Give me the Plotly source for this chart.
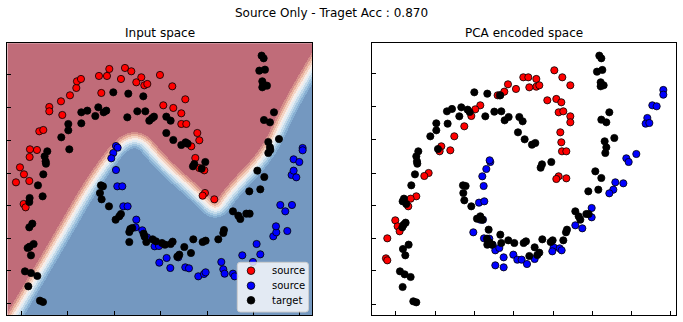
import numpy as np
import plotly.graph_objects as go

# ---------------- Input space (left panel) ----------------
in_red_x = [26, 38, 50, 66, 49, 55, 68, 89, 67, 96, 108, 126, 126, 161, 165, 188, 207, 209, 221, 275,
            282, 299, 306, 341, 353, 372, 387, 402, 411, 420, 458, 495, 534, 468, 498, 522, 522, 537,
            570, 576, 552, 564, 576, 591, 593, 586, 621]
in_red_y = [398, 443, 422, 402, 333, 323, 497, 495, 474, 551, 555, 624, 611, 641, 600, 659, 681, 701, 708, 717,
            666, 717, 738, 708, 741, 731, 698, 713, 689, 693, 720, 686, 647, 629, 621, 605, 573, 573,
            546, 524, 506, 471, 441, 434, 366, 358, 347]

in_blue_x = [326, 331, 318, 312, 326, 330, 345, 348, 361, 387, 385, 405, 419, 442, 455, 456, 478, 489,
             513, 534, 545, 573, 590, 595, 642, 648, 652, 677, 682, 705, 737, 748, 759, 798, 807, 806,
             840, 819, 854, 834, 853, 859, 867, 859, 876, 886, 886]
in_blue_y = [507, 502, 486, 470, 435, 386, 386, 326, 326, 286, 263, 254, 233, 206, 207, 157, 171, 141,
             173, 143, 140, 116, 123, 128, 159, 137, 124, 124, 116, 179, 159, 213, 182, 236, 248, 266,
             252, 330, 330, 311, 420, 433, 413, 467, 459, 501, 494]

in_tgt_x = [318, 363, 408, 273, 240, 222, 289, 297, 264, 222, 183, 183, 162, 186, 360, 390, 414, 426, 434,
            440, 477, 490, 477, 498, 522, 535, 541, 557, 561, 594, 583,
            120, 112, 115, 116, 108, 92, 106, 67, 66, 75, 66, 79, 67, 61, 71, 53, 71, 90, 63, 98, 107,
            281, 287, 278, 283, 305, 325, 336, 341, 366, 369, 375, 366, 409, 412, 417, 436, 446, 464,
            473, 496, 490, 531, 516, 510, 551, 558, 586, 595, 633, 650, 648, 677, 693, 699, 717, 727,
            726, 759, 750, 771, 783, 788, 783, 789, 815, 770, 788, 800, 765, 768, 779, 765, 756, 773,
            763, 769]
in_tgt_y = [668, 664, 656, 623, 613, 608, 608, 613, 597, 575, 573, 554, 533, 497, 593, 611, 611, 583, 590,
            595, 595, 583, 546, 525, 510, 518, 514, 446, 453, 459, 439,
            491, 476, 461, 454, 422, 389, 356, 351, 339, 274, 263, 213, 205, 201, 179, 131, 126, 117, 86, 43, 39,
            389, 386, 366, 347, 326, 286, 296, 303, 249, 258, 261, 219, 244, 235, 219, 227, 221, 216,
            211, 220, 213, 204, 181, 175, 186, 227, 219, 223, 227, 255, 246, 311, 298, 288, 304, 304,
            371, 377, 433, 414, 519, 503, 486, 495, 528, 585, 578, 608, 701, 690, 688, 683, 733, 736,
            778, 770]

# decision boundary control polygon (centre of the colour band)
bnd_x = [-1, 24, 150, 261, 378, 469, 570, 628, 675, 785, 843, 915, 960]
bnd_y = [-50, 0, 211, 406, 556, 447, 360, 300, 370, 485, 616, 741, 815]

# ---------------- PCA encoded space (right panel) ----------------
pca_red_x = [453, 407, 431, 396, 376, 382, 324, 309, 297, 276, 246, 207, 202, 234, 169, 156,
             546, 570, 594, 468, 492, 492, 501, 471, 525, 552, 567, 559, 573, 594, 594, 564, 567, 569,
             582, 559, 552, 582, 132, 115, 108, 69, 76, 82, 45, 41, 45]
pca_red_y = [713, 692, 678, 670, 659, 659, 629, 617, 597, 566, 536, 506, 491, 494, 426, 417,
             734, 713, 689, 713, 708, 685, 689, 683, 644, 648, 638, 608, 611, 596, 578, 548, 518, 491,
             491, 416, 408, 410, 356, 349, 326, 284, 266, 251, 230, 170, 164]

pca_blue_x = [354, 352, 342, 330, 334, 320, 336, 324, 332, 303, 335, 351, 361, 369, 381, 394, 369, 394,
              423, 435, 448, 464, 729, 753, 723, 711, 658, 658, 609, 630, 544, 562, 568, 540, 487,
              873, 873, 840, 853, 825, 820, 831, 792, 762, 769]
pca_blue_y = [459, 464, 438, 416, 387, 337, 341, 286, 286, 248, 230, 229, 211, 194, 201, 173, 149, 143,
              181, 166, 166, 153, 398, 395, 376, 365, 321, 293, 269, 260, 203, 200, 194, 191, 168,
              675, 661, 629, 626, 591, 574, 576, 483, 470, 459]

pca_tgt_x = [306, 345, 384, 267, 239, 224, 286, 292, 261, 339, 366, 387, 409, 397, 441, 451, 437, 457,
             192, 192, 226, 174, 197, 138, 132, 134, 135, 128,
             117, 95, 91, 102, 297, 272, 280, 273, 276, 314, 324, 330, 100, 90, 94, 109, 92, 99, 83, 97,
             115, 91, 123, 132, 349, 344, 351, 345, 359, 384, 387, 408, 426, 454, 461,
             687, 678, 648, 609, 619, 624, 642, 649, 584, 581, 573, 541, 535, 510, 487, 501, 495, 471,
             681, 687, 674, 690, 685, 694, 685, 711, 687, 702, 479, 489, 509, 505, 537, 697, 726, 702,
             699, 669]
pca_tgt_y = [668, 664, 659, 623, 618, 611, 616, 609, 596, 596, 610, 611, 594, 584, 594, 581, 548, 527,
             575, 554, 574, 536, 498, 491, 476, 461, 454, 422,
             389, 349, 341, 333, 326, 389, 387, 366, 344, 289, 296, 286, 277, 263, 271, 211, 198, 179, 131, 122,
             114, 84, 41, 38, 256, 229, 218, 211, 211, 241, 216, 224, 216, 216, 221,
             411, 376, 371, 311, 296, 286, 303, 303, 256, 248, 224, 224, 219, 227, 203, 187, 180, 177,
             778, 770, 730, 735, 698, 689, 686, 608, 586, 578, 511, 516, 452, 442, 459, 521, 531, 503,
             486, 431]

legend_labels = ["source", "source", "target"]
legend_colors = ["#ff0000", "#0000ff", "#000000"]

left_xticks = [43, 181, 321, 460, 600, 740, 876]
left_yticks = [35, 132, 230, 328, 425, 523, 622, 720]
right_xticks = [71, 191, 308, 425, 543, 661, 778, 895]
right_yticks = [33, 132, 230, 327, 425, 525, 625, 723]

LEFT_RANGE_X = [0, 915]
LEFT_RANGE_Y = [0, 815]
RIGHT_RANGE_X = [0, 911]
RIGHT_RANGE_Y = [0, 815]

# ---------------- background field from the boundary ----------------
pts = np.column_stack([bnd_x, bnd_y]).astype(float)
for _ in range(4):  # Chaikin corner cutting -> rounded boundary
    new = [pts[0]]
    for i in range(len(pts) - 1):
        p, q = pts[i], pts[i + 1]
        new.append(0.75 * p + 0.25 * q)
        new.append(0.25 * p + 0.75 * q)
    new.append(pts[-1])
    pts = np.array(new)
bx, by = pts[:, 0], pts[:, 1]

gx = np.arange(1.5, 915, 3.0)
gy = np.arange(1.5, 815, 3.0)
GX, GY = np.meshgrid(gx, gy)
dist = np.full(GX.shape, np.inf)
for i in range(len(bx) - 1):
    ax_, ay_, bx_, by_ = bx[i], by[i], bx[i + 1], by[i + 1]
    vx, vy = bx_ - ax_, by_ - ay_
    L2 = vx * vx + vy * vy
    if L2 == 0:
        continue
    t = np.clip(((GX - ax_) * vx + (GY - ay_) * vy) / L2, 0, 1)
    dd = np.hypot(GX - (ax_ + t * vx), GY - (ay_ + t * vy))
    dist = np.minimum(dist, dd)
sign = np.where(GY > np.interp(GX, bx, by), 1.0, -1.0)
sd = sign * dist
step = 6.0
edges = [k * step for k in range(-4, 5)]
bins = np.digitize(sd, edges)
band_colors = ["#7498C0", "#87AFD2", "#A2C5E0", "#C3DAEA", "#E2ECF3",
               "#F7EDE8", "#F4D4C4", "#E9B39F", "#D48E8A", "#C06C79"]
cs = []
for k, c in enumerate(band_colors):
    cs.append([k / 10, c])
    cs.append([(k + 1) / 10, c])

fig = go.Figure()
fig.add_trace(go.Heatmap(x=gx, y=gy, z=bins, colorscale=cs, zmin=-0.5, zmax=9.5,
                         showscale=False, zsmooth=False, hoverinfo="skip",
                         xaxis="x", yaxis="y"))

mk = dict(size=7.2, line=dict(color="black", width=0.8))
fig.add_trace(go.Scatter(x=in_red_x, y=in_red_y, mode="markers", name="source", showlegend=False,
                         marker=dict(color="#ff0000", **mk), xaxis="x", yaxis="y"))
fig.add_trace(go.Scatter(x=in_blue_x, y=in_blue_y, mode="markers", name="source", showlegend=False,
                         marker=dict(color="#0000ff", **mk), xaxis="x", yaxis="y"))
fig.add_trace(go.Scatter(x=in_tgt_x, y=in_tgt_y, mode="markers", name="target", showlegend=False,
                         marker=dict(color="#000000", **mk), xaxis="x", yaxis="y"))

fig.add_trace(go.Scatter(x=pca_red_x, y=pca_red_y, mode="markers", showlegend=False,
                         marker=dict(color="#ff0000", **mk), xaxis="x2", yaxis="y2"))
fig.add_trace(go.Scatter(x=pca_blue_x, y=pca_blue_y, mode="markers", showlegend=False,
                         marker=dict(color="#0000ff", **mk), xaxis="x2", yaxis="y2"))
fig.add_trace(go.Scatter(x=pca_tgt_x, y=pca_tgt_y, mode="markers", showlegend=False,
                         marker=dict(color="#000000", **mk), xaxis="x2", yaxis="y2"))

W, H = 683, 322
ydom = [(H - 315) / H, (H - 43.3) / H]
axis_common = dict(showgrid=False, zeroline=False, showline=True, linecolor="black", linewidth=1,
                   mirror=True, ticks="inside", ticklen=4, tickwidth=1, tickcolor="black",
                   showticklabels=False, fixedrange=True)


def px(x):
    return x / W


def py(y):
    return (H - y) / H


# legend (matplotlib-style box inside the left panel)
lx0, lx1, ly0, ly1, r = 237.3, 308.5, 262.3, 312.0, 3.0
path = (f"M {px(lx0 + r)} {py(ly0)} L {px(lx1 - r)} {py(ly0)} Q {px(lx1)} {py(ly0)} {px(lx1)} {py(ly0 + r)} "
        f"L {px(lx1)} {py(ly1 - r)} Q {px(lx1)} {py(ly1)} {px(lx1 - r)} {py(ly1)} "
        f"L {px(lx0 + r)} {py(ly1)} Q {px(lx0)} {py(ly1)} {px(lx0)} {py(ly1 - r)} "
        f"L {px(lx0)} {py(ly0 + r)} Q {px(lx0)} {py(ly0)} {px(lx0 + r)} {py(ly0)} Z")
shapes = [dict(type="path", path=path, xref="paper", yref="paper",
               fillcolor="rgba(255,255,255,0.8)", line=dict(color="#cccccc", width=1), layer="above")]
annotations = [
    dict(text="Source Only - Traget Acc : 0.870", x=px(331.5), y=py(13), xref="paper",
         yref="paper", showarrow=False, xanchor="center", yanchor="middle",
         font=dict(family="DejaVu Sans", size=12)),
    dict(text="Input space", x=px(159.8), y=py(33), xref="paper", yref="paper",
         showarrow=False, xanchor="center", yanchor="middle",
         font=dict(family="DejaVu Sans", size=12)),
    dict(text="PCA encoded space", x=px(524), y=py(33), xref="paper", yref="paper",
         showarrow=False, xanchor="center", yanchor="middle",
         font=dict(family="DejaVu Sans", size=12)),
]
row_y = [270.7, 285.7, 300.3]
mr = 3.8
for lab, col, yy in zip(legend_labels, legend_colors, row_y):
    shapes.append(dict(type="circle", xref="paper", yref="paper",
                       x0=px(251 - mr), x1=px(251 + mr), y0=py(yy + mr), y1=py(yy - mr),
                       fillcolor=col, line=dict(color="black", width=0.8), layer="above"))
    annotations.append(dict(text=lab, x=px(269.5), y=py(yy), xref="paper", yref="paper",
                            showarrow=False, xanchor="left", yanchor="middle",
                            font=dict(family="DejaVu Sans", size=10, color="black")))

fig.update_layout(
    width=W, height=H, margin=dict(l=0, r=0, t=0, b=0),
    paper_bgcolor="white", plot_bgcolor="white", showlegend=False,
    font=dict(family="DejaVu Sans", size=12, color="black"),
    xaxis=dict(domain=[px(7.3), px(312.3)], range=LEFT_RANGE_X, tickvals=left_xticks,
               anchor="y", **axis_common),
    yaxis=dict(domain=ydom, range=LEFT_RANGE_Y, tickvals=left_yticks, anchor="x", **axis_common),
    xaxis2=dict(domain=[px(372.3), px(676)], range=RIGHT_RANGE_X, tickvals=right_xticks,
                anchor="y2", **axis_common),
    yaxis2=dict(domain=ydom, range=RIGHT_RANGE_Y, tickvals=right_yticks, anchor="x2", **axis_common),
    shapes=shapes,
    annotations=annotations,
)

fig.write_html("out.html")
